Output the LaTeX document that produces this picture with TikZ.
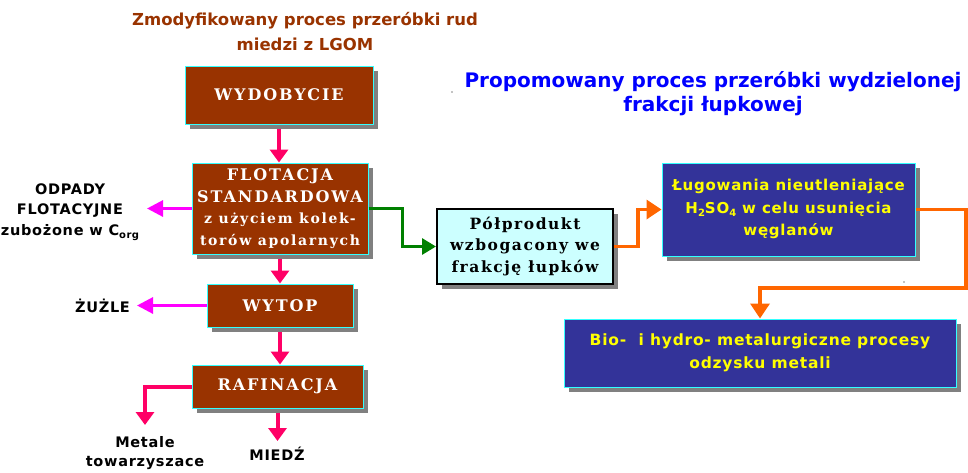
\documentclass[tikz,border=0pt]{standalone}
\usepackage{fontspec}
\setmainfont{DejaVu Sans}
\newfontfamily\boxserif[LetterSpace=12]{DejaVu Serif}
\newfontfamily\boxserifw[LetterSpace=10]{DejaVu Serif}
\newfontfamily\vsans[LetterSpace=5]{DejaVu Sans}
\usetikzlibrary{arrows.meta,shadows}
\definecolor{boxbrown}{HTML}{993300}
\definecolor{boxcyan}{HTML}{33FFFF}
\definecolor{boxnavy}{HTML}{333399}
\definecolor{txtyellow}{HTML}{FFFF00}
\definecolor{lightcyan}{HTML}{CCFFFF}
\definecolor{arrowpink}{HTML}{FF0066}
\definecolor{arrowmag}{HTML}{FF00FF}
\definecolor{arrowgreen}{HTML}{008000}
\definecolor{arroworange}{HTML}{FF6600}
\definecolor{titleblue}{HTML}{0000FF}
\definecolor{shadowgray}{HTML}{808080}
\newcommand{\sbs}[1]{\raisebox{-0.35ex}{\fontsize{10}{10}\selectfont #1}}
\begin{document}
\begin{tikzpicture}[x=1pt,y=-1pt,
  shad/.style={drop shadow={shadow xshift=5pt,shadow yshift=-5pt,fill=shadowgray,opacity=1}},
  brownbox/.style={shad,draw=boxcyan,line width=1pt,fill=boxbrown,text=white,inner sep=0pt,align=center,
    font=\boxserif\bfseries\fontsize{16}{21.5}\selectfont},
  navybox/.style={shad,draw=boxcyan,line width=1pt,fill=boxnavy,text=txtyellow,inner sep=0pt,align=center,
    font=\vsans\bfseries\fontsize{15}{22.5}\selectfont},
  pbox/.style={shad,draw=black,line width=2pt,fill=lightcyan,text=black,inner sep=0pt,align=center,
    font=\boxserifw\bfseries\fontsize{15.5}{21.5}\selectfont},
  lbl/.style={align=center,inner sep=0pt,font=\vsans\bfseries\fontsize{14.5}{20.5}\selectfont},
  pinkarr/.style={draw=arrowpink,line width=4pt,-{Triangle[width=18pt,length=13pt]}},
  magarr/.style={draw=arrowmag,line width=3pt,-{Triangle[width=16pt,length=16pt]}},
  greenarr/.style={draw=arrowgreen,line width=3pt,-{Triangle[width=16pt,length=14pt]}},
  orarr/.style={draw=arroworange,line width=3.5pt,-{Triangle[width=19pt,length=15pt]}},
  ttl/.style={align=center,inner sep=0pt,font=\bfseries}
]
\useasboundingbox (0,0) rectangle (968,472);

% titles
\node[ttl,text=boxbrown,font=\bfseries\fontsize{16.5}{25}\selectfont] (t1) at (305,32)
  {Zmodyfikowany proces przeróbki rud\\miedzi z LGOM};
\node[ttl,text=titleblue,font=\bfseries\fontsize{20}{24}\selectfont] (t2) at (713,94)
  {Propomowany proces przeróbki wydzielonej\\frakcji łupkowej};

% boxes
\node[brownbox,minimum width=188pt,minimum height=58pt] (wyd) at (279,95) {WYDOBYCIE};
\node[brownbox,minimum width=176pt,minimum height=91pt] (flot) at (280,208.5)
  {FLOTACJA\\STANDARDOWA\\{\fontsize{14}{19.5}\selectfont z użyciem kolek-}\\{\fontsize{14}{19}\selectfont torów apolarnych}};
\node[brownbox,minimum width=146pt,minimum height=43pt] (wytop) at (280,305.5) {WYTOP};
\node[brownbox,minimum width=171pt,minimum height=43pt] (raf) at (277.5,386.5) {RAFINACJA};
\node[pbox,minimum width=176pt,minimum height=75pt] (polp) at (525,246.5)
  {Półprodukt\\wzbogacony we\\frakcję łupków};
\node[navybox,minimum width=253pt,minimum height=93pt] (lug) at (788.5,209.5)
  {\raisebox{0pt}[\height][\depth]{}Ługowania nieutleniające\\H\sbs{2}SO\sbs{4} w celu usunięcia\\węglanów\rule[-4pt]{0pt}{4pt}};
\node[navybox,minimum width=392pt,minimum height=68pt,font=\vsans\bfseries\fontsize{15.5}{22.5}\selectfont] (bio) at (760,353)
  {Bio-\ \ i hydro- metalurgiczne procesy\\odzysku metali\rule[-4pt]{0pt}{4pt}};

% labels
\node[lbl] (odp) at (70,212) {ODPADY\\FLOTACYJNE\\zubożone w C\sbs{org}};
\node[lbl] (zuz) at (102.5,306) {ŻUŻLE};
\node[lbl,anchor=north,font=\vsans\bfseries\fontsize{14.5}{19}\selectfont] (met) at (145,436) {Metale\\towarzyszace};
\node[lbl] (miedz) at (277,454) {MIEDŹ};

% coordinates
\coordinate (odpTip) at (147,208.5);
\coordinate (zuzTip) at (137,305.5);
\coordinate (metTip) at (145,425);
\coordinate (miedzTip) at (277.5,441);
\coordinate (gTurn) at (402,208.5);
\coordinate (oTurn) at (638,246.5);
\coordinate (oCorner) at (966,288);

% connectors
\draw[pinkarr,shorten <=4pt] (wyd.south) -- (wyd.south |- flot.north);
\draw[pinkarr,shorten <=4pt] (flot.south) -- (wytop.north);
\draw[pinkarr,shorten <=4pt] (wytop.south) -- (wytop.south |- raf.north);
\draw[pinkarr,shorten <=4pt] (raf.south) -- (miedzTip);
\draw[pinkarr] (raf.west) -| (metTip);
\draw[magarr] (flot.west) -- (odpTip);
\draw[magarr] (wytop.west) -- (zuzTip);
\draw[greenarr] (flot.east) -- (gTurn) |- (polp.west);
\draw[orarr] (polp.east) -- (oTurn) |- (lug.west);
\draw[orarr] (lug.east) -| (oCorner) -| (bio.north);

% stray dots
\fill (452,92) circle (0.7pt);
\fill (904,282) circle (0.7pt);
\end{tikzpicture}
\end{document}
